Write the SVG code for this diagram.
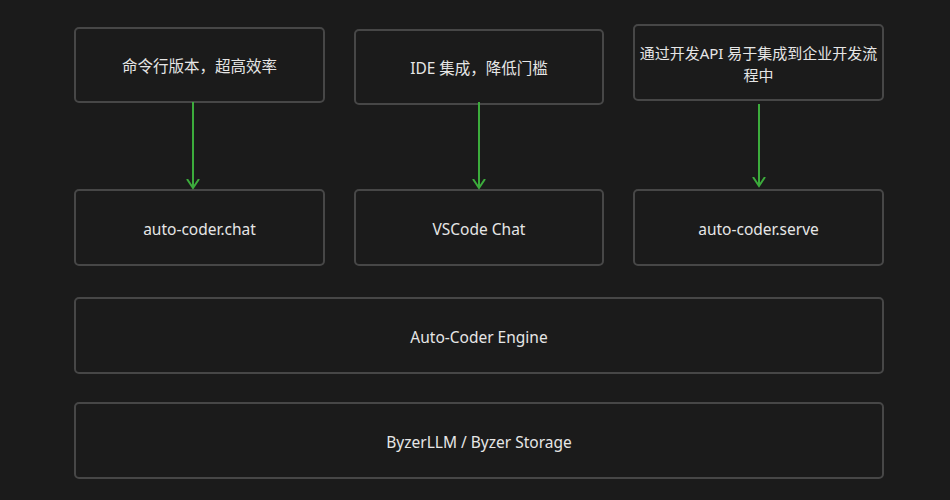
<svg xmlns="http://www.w3.org/2000/svg" width="950" height="500" viewBox="0 0 950 500">
<defs>
<style>
.box{fill:#1b1b1b;stroke:#474747;stroke-width:2}
.t{fill:#e6e6e6;font-family:"Noto Sans","Noto Sans CJK SC",sans-serif;font-size:15.5px;text-anchor:middle;dominant-baseline:central}
.s{font-size:15px}
.c{stroke:#3cac3c;stroke-width:2;fill:none}
</style>
<marker id="ah" markerWidth="12" markerHeight="14" refX="9" refY="6" orient="auto" markerUnits="userSpaceOnUse" viewBox="0 0 12 12">
<path d="M0,0 L9,6 L0,12" fill="none" stroke="#3cac3c" stroke-width="2"/>
</marker>
</defs>
<rect width="950" height="500" fill="#1b1b1b"/>
<g id="n1"><rect class="box" x="75" y="28" width="249" height="74" rx="4"/><text class="t" x="199.5" y="66">命令行版本，超高效率</text></g>
<g id="n2"><rect class="box" x="355" y="30" width="248" height="74" rx="4"/><text class="t" x="479" y="68">IDE 集成，降低门槛</text></g>
<g id="n3"><rect class="box" x="634" y="25" width="249" height="75" rx="4"/><text class="t s" x="758.5" y="53">通过开发API 易于集成到企业开发流</text><text class="t s" x="758.5" y="75">程中</text></g>
<g id="n4"><rect class="box" x="75" y="190" width="249" height="75" rx="4"/><text class="t" x="199.5" y="229">auto-coder.chat</text></g>
<g id="n5"><rect class="box" x="355" y="190" width="248" height="75" rx="4"/><text class="t" x="479" y="229">VSCode Chat</text></g>
<g id="n6"><rect class="box" x="634" y="190" width="249" height="75" rx="4"/><text class="t" x="758.5" y="229">auto-coder.serve</text></g>
<g id="n7"><rect class="box" x="75" y="298" width="808" height="75" rx="4"/><text class="t" x="479" y="337">Auto-Coder Engine</text></g>
<g id="n8"><rect class="box" x="75" y="403" width="808" height="75" rx="4"/><text class="t" x="479" y="442">ByzerLLM / Byzer Storage</text></g>
<g id="connectors">
<line class="c" x1="193" y1="102" x2="193" y2="188" marker-end="url(#ah)"/>
<line class="c" x1="479" y1="102" x2="479" y2="188" marker-end="url(#ah)"/>
<line class="c" x1="759" y1="104" x2="759" y2="186" marker-end="url(#ah)"/>
</g>
</svg>
